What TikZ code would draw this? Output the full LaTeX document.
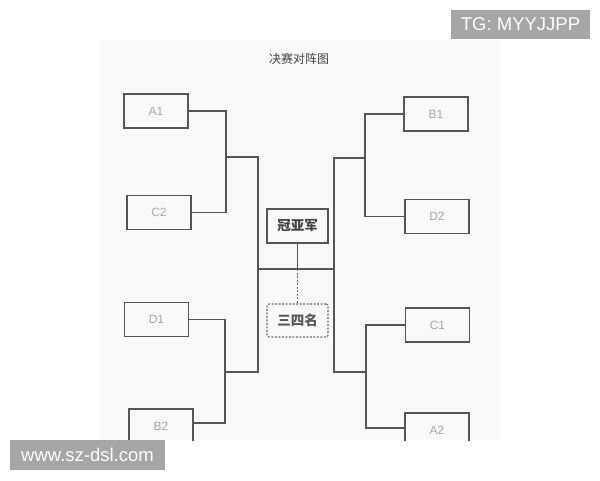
\documentclass[tikz,border=0pt]{standalone}
\usepackage{fontspec}
\setmainfont{Liberation Sans}
\newfontfamily\cjk{Noto Sans CJK SC}
\definecolor{ln}{HTML}{555555}
\definecolor{lbl}{HTML}{A8A8A8}
\definecolor{wmc}{HTML}{A6A6A6}
\definecolor{bgc}{HTML}{F9F9F9}
\definecolor{ttl}{HTML}{444444}
\begin{document}
\begin{tikzpicture}[x=1pt,y=-1pt,
  team/.style={draw=ln, line width=1.25pt, minimum width=64pt, minimum height=34pt, inner sep=0pt, text=lbl, font=\fontsize{12}{12}\selectfont},
  link/.style={draw=ln, line width=1.25pt},
  champ/.style={draw=ln, line width=1.25pt, minimum width=61pt, minimum height=34pt, inner sep=0pt, text=ttl, font=\cjk\bfseries\fontsize{13.5}{13.5}\selectfont},
  third/.style={draw=ln!85, line width=1.1pt, dash pattern=on 2pt off 1.5pt, rounded corners=2pt, minimum width=61pt, minimum height=33pt, inner sep=0pt, text=ttl!90, font=\cjk\bfseries\fontsize{13.5}{13.5}\selectfont},
  wmark/.style={fill=wmc, text=white, inner sep=0pt, font=\fontsize{18.5}{18.5}\selectfont}
]
\useasboundingbox (0,0) rectangle (600,480);
\fill[bgc] (100,40) rectangle (500,440);
\begin{scope}
\clip (100,40) rectangle (500,440);
\node[text=ttl, font=\cjk\fontsize{12}{12}\selectfont] (title) at (299,59) {决赛对阵图};
\node[team] (A1) at (156,111) {A1};
\node[team] (C2) at (159,212.5) {C2};
\node[team] (D1) at (156.5,319.5) {D1};
\node[team] (B2) at (161,426) {B2};
\node[team] (B1) at (436,114) {B1};
\node[team] (D2) at (437,216.5) {D2};
\node[team] (C1) at (437.5,325) {C1};
\node[team] (A2) at (437,430) {A2};
\coordinate (ja) at (226,157);
\coordinate (jb) at (225,372);
\coordinate (jc) at (365,158);
\coordinate (jd) at (366,372);
\coordinate (lt) at (258,157);
\coordinate (lb) at (258,372);
\coordinate (rt) at (334,158);
\coordinate (rb) at (334,372);
\coordinate (cl) at (258,269);
\coordinate (cr) at (334,269);
\coordinate (cm) at (297.5,269);
\draw[link] (A1.east) -| (ja) |- (C2.east);
\draw[link] (ja) -- (lt) -- (lb) -- (jb);
\draw[link] (D1.east) -| (jb) |- ([yshift=3pt]B2.east);
\draw[link] (B1.west) -| (jc) |- (D2.west);
\draw[link] (jc) -- (rt) -- (rb) -- (jd);
\draw[link] (C1.west) -| (jd) |- ([yshift=2pt]A2.west);
\draw[link] (cl) -- (cr);
\node[champ] (F) at (297.5,226) {冠亚军};
\node[third] (T) at (297.5,320.5) {三四名};
\draw[link] (F.south) -- (cm);
\draw[link, draw=ln!85, line width=1.1pt, dash pattern=on 2pt off 1.5pt] (cm) -- (T.north);
\end{scope}
\node[wmark, minimum width=155pt, minimum height=30pt] (wm1) at (87.5,455) {www.sz-dsl.com};
\node[wmark, minimum width=139pt, minimum height=29pt] (wm2) at (520.5,24.5) {TG: MYYJJPP};
\end{tikzpicture}
\end{document}
